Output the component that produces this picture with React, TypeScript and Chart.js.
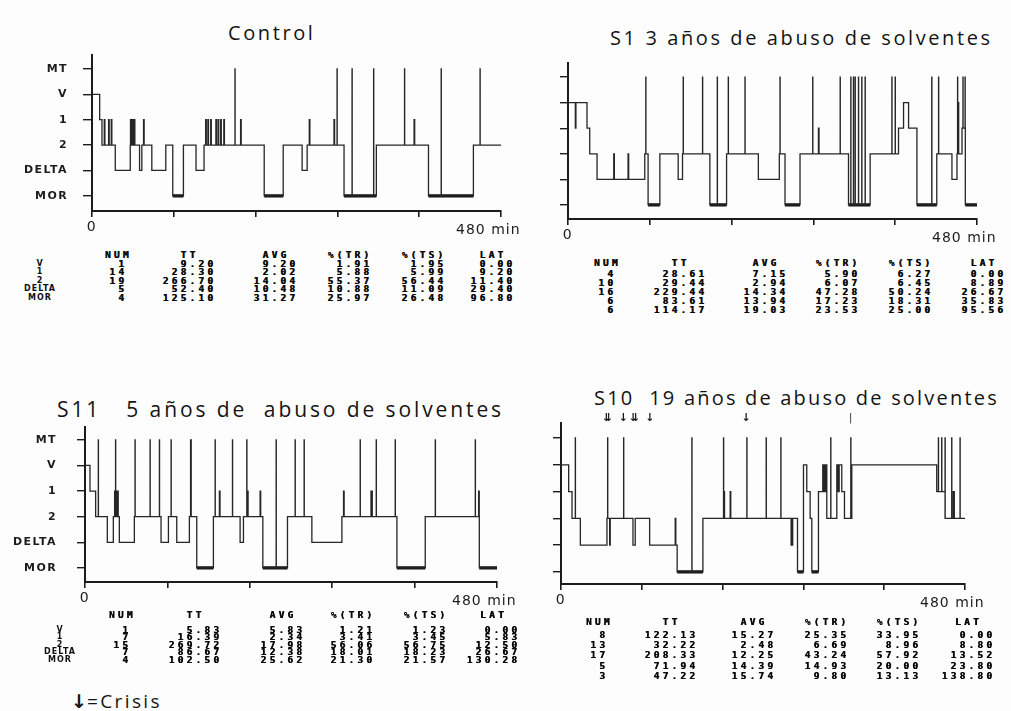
import React, { useEffect, useRef } from "react";
import { Chart, registerables } from "chart.js";
Chart.register(...registerables);

// ---------- data ----------
const stageLabels = ["MOR", "DELTA", "2", "1", "V", "MT"];
const xTickMinutes = [0, 96, 192, 288, 384, 480];

// Control
const controlTimes = [0, 9.0, 11.7, 27.3, 44.9, 55.8, 58.5, 70.2, 86.6, 94.8, 107.3, 122.1, 131.5, 202.1, 224.4, 246.6, 252.5, 295.8, 333.7, 394.9, 447.6];
const controlStages = ["V", "1", "2", "DELTA", "2", "DELTA", "2", "DELTA", "2", "MOR", "2", "DELTA", "2", "MOR", "2", "DELTA", "2", "MOR", "2", "MOR", "2"];
const controlSpikeTimes = [14.4, 19.5, 22.6, 45.2, 46.4, 47.6, 49.6, 60.5, 133.4, 136.0, 139.3, 145.4, 148.0, 151.0, 154.7, 167.8, 174.4, 255.0, 284.0, 287.6, 305.2, 330.5, 366.8, 378.0, 409.8, 455.4];
const controlSpikeStages = ["1", "1", "1", "1", "1", "1", "1", "1", "1", "1", "1", "1", "1", "1", "1", "MT", "1", "1", "1", "MT", "MT", "MT", "MT", "1", "MT", "MT"];

// S1
const s1Times = [0, 22.3, 25.5, 34.1, 90.1, 94.0, 107.8, 129.3, 134.4, 166.5, 186.1, 223.4, 248.0, 254.7, 272.3, 329.2, 354.6, 387.9, 393.8, 399.7, 409.5, 432.8, 450.6, 456.5, 462.4, 466.3];
const s1Stages = ["V", "1", "2", "DELTA", "2", "MOR", "2", "DELTA", "2", "MOR", "2", "DELTA", "2", "MOR", "2", "MOR", "2", "1", "V", "1", "MOR", "2", "DELTA", "2", "1", "MOR"];
const s1SpikeTimes = [8.6, 53.7, 70.5, 91.3, 135.2, 157.9, 175.2, 188.1, 207.7, 248.8, 287.2, 293.9, 319.4, 331.9, 335.0, 337.0, 340.9, 344.8, 348.7, 380.1, 384.0, 426.9, 434.9, 457.2, 457.8, 463.5, 466.0];
const s1SpikeStages = ["1", "2", "2", "MT", "MT", "MT", "MT", "MT", "MT", "MT", "MT", "1", "MT", "MT", "MT", "MT", "MT", "MT", "MT", "MT", "MT", "MT", "MT", "MT", "V", "MT", "MT"];

// S11
const s11Times = [0, 5.8, 12.4, 26.0, 33.0, 40.0, 57.5, 88.6, 97.2, 106.9, 121.6, 130.2, 149.6, 180.7, 184.6, 207.2, 235.9, 264.3, 299.3, 363.4, 396.4, 459.4];
const s11Stages = ["V", "1", "2", "DELTA", "2", "DELTA", "2", "DELTA", "2", "DELTA", "2", "MOR", "2", "DELTA", "2", "MOR", "2", "DELTA", "2", "MOR", "2", "MOR"];
const s11SpikeTimes = [15.5, 34.5, 35.6, 36.8, 38.0, 58.3, 75.8, 86.7, 100.3, 123.0, 123.6, 151.6, 156.6, 171.8, 188.5, 189.3, 204.0, 222.7, 244.8, 255.3, 301.2, 320.6, 333.2, 334.0, 339.3, 361.4, 408.1, 454.7, 458.6];
const s11SpikeStages = ["MT", "1", "MT", "1", "1", "MT", "MT", "MT", "MT", "MT", "MT", "MT", "1", "MT", "MT", "1", "1", "MT", "MT", "MT", "1", "MT", "1", "1", "MT", "MT", "MT", "MT", "1"];

// S10
const s10Times = [0, 9.1, 13.1, 23.0, 54.6, 85.5, 88.2, 105.3, 138.0, 168.6, 281.0, 288.1, 292.0, 296.0, 298.0, 305.9, 311.0, 315.8, 327.7, 333.6, 336.8, 345.5, 446.4, 456.3];
const s10Stages = ["V", "1", "2", "DELTA", "2", "DELTA", "2", "DELTA", "MOR", "2", "MOR", "V", "1", "2", "MOR", "1", "V", "2", "V", "1", "2", "V", "1", "2"];
const s10SpikeTimes = [17.0, 55.4, 57.8, 74.4, 135.7, 155.5, 193.1, 193.6, 201.0, 220.8, 243.8, 261.2, 273.4, 274.6, 312.0, 313.2, 314.4, 320.5, 328.6, 329.8, 344.3, 448.4, 452.3, 456.3, 464.2, 466.0, 466.6, 474.1];
const s10SpikeStages = ["MT", "MT", "DELTA", "MT", "2", "MT", "MT", "1", "1", "MT", "MT", "MT", "DELTA", "DELTA", "1", "1", "1", "MT", "1", "1", "MT", "MT", "MT", "MT", "MT", "1", "1", "MT"];
const s10CrisisTimes = [53.8, 56.6, 74.2, 85.6, 88.6, 105.6, 219.8];
const s10MarkTimes = [344.3];

// tables
const tableHeaders = ["NUM", "TT", "AVG", "%(TR)", "%(TS)", "LAT"];
const rowLabels = ["V", "1", "2", "DELTA", "MOR"];

const controlNum = [1, 14, 19, 5, 4];
const controlTT = [9.2, 28.3, 266.7, 52.4, 125.1];
const controlAvg = [9.2, 2.02, 14.04, 10.48, 31.27];
const controlTR = [1.91, 5.88, 55.37, 10.88, 25.97];
const controlTS = [1.95, 5.99, 56.44, 11.09, 26.48];
const controlLat = [0.0, 9.2, 11.4, 29.4, 96.8];

const s1Num = [4, 10, 16, 6, 6];
const s1TT = [28.61, 29.44, 229.44, 83.61, 114.17];
const s1Avg = [7.15, 2.94, 14.34, 13.94, 19.03];
const s1TR = [5.9, 6.07, 47.28, 17.23, 23.53];
const s1TS = [6.27, 6.45, 50.24, 18.31, 25.0];
const s1Lat = [0.0, 8.89, 26.67, 35.83, 95.56];

const s11Num = [1, 7, 15, 7, 4];
const s11TT = [5.83, 16.39, 269.72, 86.67, 102.5];
const s11Avg = [5.83, 2.34, 17.98, 12.38, 25.62];
const s11TR = [1.21, 3.41, 56.06, 18.01, 21.3];
const s11TS = [1.23, 3.45, 56.75, 18.23, 21.57];
const s11Lat = [0.0, 5.83, 12.5, 26.67, 130.28];

const s10Num = [8, 13, 17, 5, 3];
const s10TT = [122.13, 32.22, 208.33, 71.94, 47.22];
const s10Avg = [15.27, 2.48, 12.25, 14.39, 15.74];
const s10TR = [25.35, 6.69, 43.24, 14.93, 9.8];
const s10TS = [33.95, 8.96, 57.92, 20.0, 13.13];
const s10Lat = [0.0, 8.8, 13.52, 23.8, 138.8];

// ---------- helpers ----------
const END_MIN = 480;
const lv = (s: string) => stageLabels.indexOf(s);

function buildTrace(times: number[], stages: string[], spikeT: number[], spikeS: string[]) {
  const pts: { x: number; y: number }[] = [];
  for (let i = 0; i < times.length; i++) {
    const start = times[i];
    const end = i + 1 < times.length ? times[i + 1] : END_MIN;
    const base = lv(stages[i]);
    pts.push({ x: start, y: base });
    const sp = spikeT
      .map((t, k) => ({ t, s: lv(spikeS[k]) }))
      .filter((o) => o.t >= start && o.t < end)
      .sort((a, b) => a.t - b.t);
    for (const o of sp) {
      const w = stageLabels[o.s] === "MT" ? 0.15 : 0.7;
      pts.push({ x: o.t, y: o.s });
      pts.push({ x: Math.min(o.t + w, end), y: base });
    }
  }
  pts.push({ x: END_MIN, y: lv(stages[stages.length - 1]) });
  return pts;
}

function buildMor(times: number[], stages: string[]) {
  const pts: { x: number; y: number | null }[] = [];
  for (let i = 0; i < times.length; i++) {
    if (stages[i] !== "MOR") continue;
    const end = i + 1 < times.length ? times[i + 1] : END_MIN;
    pts.push({ x: times[i], y: 0 });
    pts.push({ x: end, y: 0 });
    pts.push({ x: end, y: null });
  }
  return pts;
}

const Y_W = 90;
const PAD_T = 30;
const PAD_R = 40;
const X_H = 30;
const INK = "#1c1c1c";

type Area = { l: number; t: number; r: number; b: number };

function Hypnogram(props: {
  area: Area; yMin: number; yMax: number; showLabels: boolean; labelPad: number; tickLen: number;
  times: number[]; stages: string[]; spikeT: number[]; spikeS: string[];
  crisis?: number[]; marks?: number[];
}) {
  const ref = useRef<HTMLCanvasElement>(null);
  const { area } = props;
  const width = area.r - area.l + Y_W + PAD_R;
  const height = area.b - area.t + PAD_T + X_H;
  useEffect(() => {
    if (!ref.current) return;
    const textPlugin = {
      id: "hypnoText",
      beforeDraw(chart: any) {
        chart.ctx.letterSpacing = "1.4px";
      },
      afterDraw(chart: any) {
        const ctx = chart.ctx;
        const xs = chart.scales.x;
        const ca = chart.chartArea;
        ctx.save();
        ctx.fillStyle = INK;
        ctx.letterSpacing = "1px";
        ctx.font = "14px 'DejaVu Sans'";
        ctx.textAlign = "left";
        ctx.textBaseline = "middle";
        ctx.fillText("480 min", xs.getPixelForValue(END_MIN) - 45, ca.bottom + 19);
        ctx.letterSpacing = "0px";
        ctx.font = "bold 11px 'DejaVu Sans'";
        ctx.textAlign = "center";
        (props.crisis || []).forEach((t) => ctx.fillText("↓", xs.getPixelForValue(t), ca.top - 5));
        ctx.font = "10px 'DejaVu Sans'";
        (props.marks || []).forEach((t) => ctx.fillText("|", xs.getPixelForValue(t), ca.top - 5));
        ctx.restore();
        ctx.letterSpacing = "0px";
      },
    };
    const chart = new Chart(ref.current, {
      type: "line",
      data: {
        datasets: [
          {
            data: buildTrace(props.times, props.stages, props.spikeT, props.spikeS),
            stepped: true,
            borderColor: "#262626",
            borderWidth: 1.3,
            pointRadius: 0,
            fill: false,
          },
          {
            data: buildMor(props.times, props.stages),
            borderColor: "#111",
            borderWidth: 3.2,
            pointRadius: 0,
            spanGaps: false,
            fill: false,
          },
        ],
      },
      options: {
        responsive: false,
        animation: false,
        layout: { padding: { top: PAD_T, right: PAD_R, left: 0, bottom: 0 } },
        plugins: { legend: { display: false }, tooltip: { enabled: false }, title: { display: false } },
        scales: {
          x: {
            type: "linear",
            min: 0,
            max: END_MIN,
            afterFit: (s: any) => { s.height = X_H; },
            afterBuildTicks: (s: any) => { s.ticks = xTickMinutes.map((v) => ({ value: v })); },
            ticks: {
              autoSkip: false,
              maxRotation: 0,
              padding: 2,
              color: INK,
              font: { size: 14, family: "DejaVu Sans" },
              callback: (v: any) => (v === 0 ? "0" : ""),
            },
            grid: { drawOnChartArea: false, drawTicks: true, tickLength: 6, color: INK, lineWidth: 1.6 },
            border: { display: true, color: INK, width: 2 },
          },
          y: {
            type: "linear",
            min: props.yMin,
            max: props.yMax,
            afterFit: (s: any) => { s.width = Y_W; },
            afterBuildTicks: (s: any) => { s.ticks = stageLabels.map((_, i) => ({ value: i })); },
            ticks: {
              autoSkip: false,
              padding: props.labelPad,
              color: INK,
              font: { size: 11, weight: "bold", family: "DejaVu Sans" },
              callback: (v: any) => (props.showLabels ? stageLabels[v] ?? "" : ""),
            },
            grid: { drawOnChartArea: false, drawTicks: true, tickLength: props.tickLen, color: INK, lineWidth: 1.4 },
            border: { display: true, color: INK, width: 2 },
          },
        },
      },
      plugins: [textPlugin],
    } as any);
    return () => chart.destroy();
  }, []);
  return (
    <canvas
      ref={ref}
      width={width}
      height={height}
      style={{ position: "absolute", left: area.l - Y_W, top: area.t - PAD_T, width, height }}
    />
  );
}

const CHAR_W = 8.9;
const LS = 3.2;
const fmt2 = (v: number) => v.toFixed(2);

function StatTable(props: {
  cols: (number[])[]; rights: number[]; headerY: number; rowY0: number; rowStep: number; labelX?: number;
}) {
  const cellStyle: any = {
    position: "absolute",
    fontFamily: "'DejaVu Sans Mono', 'Liberation Mono', monospace",
    fontWeight: "bold",
    fontSize: "9.5px",
    letterSpacing: LS + "px",
    lineHeight: "10px",
    height: 10,
    color: "#0a0a0a",
    textShadow: "0.45px 0 0 #0a0a0a",
    whiteSpace: "pre",
  };
  const out: any[] = [];
  props.cols.forEach((col, ci) => {
    const strs = col.map((v) => (ci === 0 ? String(v) : fmt2(v)));
    const right = props.rights[ci];
    const maxLen = Math.max(...strs.map((s) => s.length));
    const center = right - (maxLen * CHAR_W - LS) / 2;
    out.push(
      <div key={"h" + ci} style={{ ...cellStyle, left: center - 40 + LS / 2, width: 80, top: props.headerY - 5, textAlign: "center" }}>
        {tableHeaders[ci]}
      </div>
    );
    strs.forEach((s, ri) => {
      out.push(
        <div key={"c" + ci + "_" + ri} style={{ ...cellStyle, left: right - 80, width: 80 + LS, top: props.rowY0 + ri * props.rowStep - 5, textAlign: "right" }}>
          {s}
        </div>
      );
    });
  });
  if (props.labelX !== undefined) {
    rowLabels.forEach((lab, ri) => {
      out.push(
        <div key={"l" + ri} style={{
          position: "absolute", left: props.labelX! - 30, width: 60, textAlign: "center",
          top: props.rowY0 + ri * props.rowStep - 5, lineHeight: "10px", fontFamily: "'DejaVu Sans', sans-serif",
          fontWeight: "bold", fontSize: "8px", letterSpacing: "1px", color: "#111",
        }}>{lab}</div>
      );
    });
  }
  return <>{out}</>;
}

const titleStyle: any = {
  position: "absolute",
  fontFamily: "'Open Sans', 'DejaVu Sans', sans-serif",
  fontSize: "20px",
  letterSpacing: "2.6px",
  lineHeight: "24px",
  color: "#141414",
  whiteSpace: "pre",
};
const titleStyleS11: any = { ...titleStyle, fontSize: "21px", letterSpacing: "2.9px" };
const titleStyleS10: any = { ...titleStyle, fontSize: "20px", letterSpacing: "2.2px" };

export default function App() {
  return (
    <div style={{ position: "fixed", left: 0, top: 0, width: 1011, height: 711, overflow: "hidden", background: "#fdfdfd" }}>
      <div style={{ ...titleStyle, left: 228, top: 33 - 12 }}>Control</div>
      <div style={{ ...titleStyle, left: 610, top: 38 - 12 }}>S1 3 años de abuso de solventes</div>
      <div style={{ ...titleStyleS11, left: 57, top: 409 - 12 }}>{"S11   5 años de  abuso de solventes"}</div>
      <div style={{ ...titleStyleS10, left: 594, top: 398 - 12 }}>{"S10  19 años de abuso de solventes"}</div>

      <Hypnogram area={{ l: 92, t: 55, r: 501, b: 211 }} yMin={-0.6} yMax={5.55} showLabels labelPad={15} tickLen={9}
        times={controlTimes} stages={controlStages} spikeT={controlSpikeTimes} spikeS={controlSpikeStages} />
      <Hypnogram area={{ l: 568, t: 63, r: 977, b: 219 }} yMin={-0.55} yMax={5.55} showLabels={false} labelPad={15} tickLen={8}
        times={s1Times} stages={s1Stages} spikeT={s1SpikeTimes} spikeS={s1SpikeStages} />
      <Hypnogram area={{ l: 85, t: 427, r: 497, b: 582 }} yMin={-0.55} yMax={5.5} showLabels labelPad={20} tickLen={8}
        times={s11Times} stages={s11Stages} spikeT={s11SpikeTimes} spikeS={s11SpikeStages} />
      <Hypnogram area={{ l: 561, t: 423, r: 965, b: 584 }} yMin={-0.45} yMax={5.56} showLabels={false} labelPad={15} tickLen={8}
        times={s10Times} stages={s10Stages} spikeT={s10SpikeTimes} spikeS={s10SpikeStages}
        crisis={s10CrisisTimes} marks={s10MarkTimes} />

      <StatTable cols={[controlNum, controlTT, controlAvg, controlTR, controlTS, controlLat]}
        rights={[124, 213, 295, 369, 443, 512]} headerY={255} rowY0={264} rowStep={8.4} labelX={40} />
      <StatTable cols={[s1Num, s1TT, s1Avg, s1TR, s1TS, s1Lat]}
        rights={[613, 704, 785, 857, 930, 1003]} headerY={263} rowY0={274} rowStep={9.1} />
      <StatTable cols={[s11Num, s11TT, s11Avg, s11TR, s11TS, s11Lat]}
        rights={[128, 219, 302, 372, 445, 517]} headerY={615} rowY0={630} rowStep={7.4} labelX={60} />
      <StatTable cols={[s10Num, s10TT, s10Avg, s10TR, s10TS, s10Lat]}
        rights={[605, 695, 773, 846, 918, 992]} headerY={622} rowY0={634.7} rowStep={10.3} />

      <div style={{ position: "absolute", left: 71, top: 689, lineHeight: "24px", fontFamily: "'Open Sans', 'DejaVu Sans', sans-serif", fontSize: "19px", letterSpacing: "2.4px", color: "#141414", whiteSpace: "pre" }}>
        <span style={{ fontWeight: "bold", fontFamily: "'DejaVu Sans', sans-serif", letterSpacing: "0px" }}>↓</span>=Crisis
      </div>
    </div>
  );
}
